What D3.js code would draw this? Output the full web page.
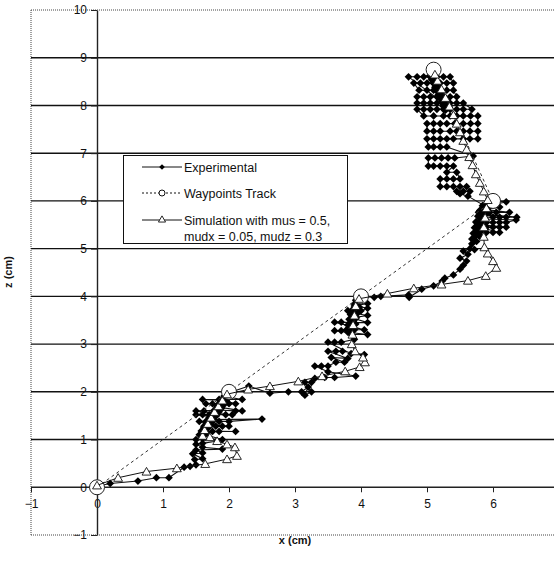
<!DOCTYPE html>
<html>
<head>
<meta charset="utf-8">
<script src="https://cdn.jsdelivr.net/npm/d3@7"></script>
<style>
  body { margin: 0; background: #fff; }
  svg { display: block; font-family: "Liberation Sans", Arial, sans-serif; }
</style>
</head>
<body>
<svg id="chart" width="554" height="564"></svg>
<script>
// ---- data -------------------------------------------------------------
const xTickValues = [-1, 0, 1, 2, 3, 4, 5, 6];
const zTickValues = [-1, 0, 1, 2, 3, 4, 5, 6, 7, 8, 9, 10];

const waypoints = [[0, 0], [2, 2], [4, 4], [6, 6], [5.1, 8.75]];

// measured track, leg by leg
const expLeg0 = [
  [0, 0.02], [0.2, 0.08], [0.62, 0.13], [0.9, 0.2], [1.09, 0.2], [1.32, 0.42],
  [1.41, 0.44], [1.5, 0.47], [1.48, 0.58], [1.6, 0.6], [1.45, 0.7], [1.6, 0.72],
  [1.5, 0.78], [1.9, 0.8], [1.6, 0.84], [1.5, 0.9], [1.6, 0.92], [1.82, 0.97],
  [1.5, 1.0], [1.6, 1.02], [1.9, 1.0]
];
const expHover1 = [
  [1.58, 1.12], [1.65, 1.12], [1.75, 1.17], [1.85, 1.17], [2.1, 1.17], [1.6, 1.18],
  [1.62, 1.25], [1.7, 1.28], [1.8, 1.28], [1.9, 1.28], [2.0, 1.28], [1.66, 1.32],
  [1.55, 1.38], [1.65, 1.38], [1.75, 1.38], [1.85, 1.38], [2.0, 1.38], [2.5, 1.43],
  [1.7, 1.42], [1.74, 1.48], [1.5, 1.52], [1.6, 1.52], [1.7, 1.52], [1.95, 1.52],
  [2.05, 1.52], [1.78, 1.55], [1.5, 1.6], [1.62, 1.6], [1.82, 1.62], [2.1, 1.6],
  [2.2, 1.6], [1.85, 1.68], [1.9, 1.75], [1.65, 1.75], [1.75, 1.75], [2.0, 1.75],
  [2.1, 1.75], [1.92, 1.82], [1.6, 1.84], [1.85, 1.84], [2.2, 1.84], [1.95, 1.9],
  [1.6, 1.15], [1.63, 1.22], [1.67, 1.3], [1.7, 1.36], [1.73, 1.44], [1.77, 1.5],
  [1.8, 1.58], [1.83, 1.65], [1.87, 1.72], [1.9, 1.8], [1.93, 1.86], [1.97, 1.94],
  [1.55, 1.1], [1.58, 1.18], [1.62, 1.28], [1.66, 1.36], [1.7, 1.46], [1.74, 1.54],
  [1.78, 1.62], [1.82, 1.7], [1.86, 1.78], [1.9, 1.86], [1.93, 1.92],
  [1.65, 1.15], [1.69, 1.25], [1.73, 1.33], [1.77, 1.42], [1.81, 1.5], [1.85, 1.58],
  [1.89, 1.66], [1.93, 1.74], [1.96, 1.82]
];
const expLeg1 = [
  [1.98, 1.97], [2.3, 2.12], [2.62, 1.97], [2.9, 2.0], [3.1, 2.0], [3.2, 2.1],
  [3.15, 1.93], [3.25, 2.0], [3.15, 2.2], [3.25, 2.2], [3.3, 2.28], [3.45, 2.3],
  [3.6, 2.3], [3.92, 2.33], [3.5, 2.42], [3.3, 2.54], [3.4, 2.54], [3.5, 2.54],
  [3.62, 2.62], [3.75, 2.62], [3.55, 2.72], [3.8, 2.7], [3.5, 2.85], [3.62, 2.85],
  [3.72, 2.85], [4.05, 2.78], [3.85, 2.8], [3.5, 3.04], [3.6, 3.04], [3.7, 3.04],
  [3.9, 3.1], [3.85, 3.2], [4.1, 3.2], [3.6, 3.28], [3.7, 3.28], [3.82, 3.3],
  [4.05, 3.3], [3.6, 3.46], [3.7, 3.46], [3.84, 3.45], [4.1, 3.45], [3.86, 3.55],
  [4.1, 3.6], [3.88, 3.65], [3.8, 3.7], [4.0, 3.7], [4.1, 3.75], [3.9, 3.8],
  [4.1, 3.85], [3.93, 3.88], [3.8, 3.25], [3.82, 3.35], [3.83, 3.42], [3.85, 3.5],
  [3.87, 3.58], [3.88, 3.66], [3.9, 3.74], [3.92, 3.82], [3.95, 3.9], [3.97, 3.95],
  [3.78, 3.3], [3.8, 3.4], [3.82, 3.52], [3.84, 3.62], [3.87, 3.72], [3.9, 3.84],
  [3.92, 3.92], [3.9, 3.3], [3.92, 3.42], [3.93, 3.55], [3.95, 3.65], [3.97, 3.78]
];
const expLeg2 = [
  [4.05, 4.0], [4.2, 3.98], [4.3, 4.0], [4.72, 4.03], [4.73, 3.98], [4.92, 4.15],
  [5.1, 4.22], [5.23, 4.32], [5.27, 4.38], [5.4, 4.45], [5.5, 4.57], [5.55, 4.65],
  [5.6, 4.74], [5.5, 4.8], [5.62, 4.88], [5.55, 4.95], [5.65, 5.0], [5.72, 4.98],
  [5.68, 5.1], [5.75, 5.15], [5.7, 5.22], [5.78, 5.3], [5.8, 5.34], [5.9, 5.34],
  [6.0, 5.34], [6.1, 5.34], [5.8, 5.45], [5.9, 5.45], [6.0, 5.45], [6.1, 5.45],
  [6.2, 5.45], [5.82, 5.5], [5.75, 5.55], [5.9, 5.55], [6.0, 5.55], [6.1, 5.55],
  [6.2, 5.55], [6.35, 5.6], [5.85, 5.62], [5.8, 5.66], [6.0, 5.66], [6.1, 5.66],
  [6.2, 5.66], [6.36, 5.66], [5.86, 5.72], [5.78, 5.76], [5.95, 5.76], [6.05, 5.76],
  [6.25, 5.76], [5.88, 5.82], [6.1, 5.87], [5.9, 5.9], [6.2, 5.98], [5.95, 6.0],
  [5.72, 5.25], [5.74, 5.35], [5.76, 5.45], [5.78, 5.55], [5.8, 5.65], [5.83, 5.75],
  [5.86, 5.85], [5.9, 5.95],
  [5.68, 5.2], [5.7, 5.32], [5.72, 5.44], [5.74, 5.56], [5.77, 5.68], [5.8, 5.8],
  [5.84, 5.9], [5.8, 5.25], [5.82, 5.38], [5.85, 5.5], [5.88, 5.62], [5.9, 5.74],
  [5.93, 5.85]
];
const expLeg3 = [
  [5.62, 6.1], [5.5, 6.15], [5.45, 6.2], [5.55, 6.2], [5.65, 6.2],
  [5.6, 6.3], [5.5, 6.3], [5.4, 6.3], [5.3, 6.3], [5.2, 6.3],
  [5.2, 6.46], [5.3, 6.46], [5.4, 6.46], [5.5, 6.46], [5.45, 6.6], [5.3, 6.6],
  [5.4, 6.73], [5.3, 6.73], [5.2, 6.73], [5.1, 6.73], [5.02, 6.73],
  [5.02, 6.9], [5.12, 6.9], [5.22, 6.9], [5.32, 6.9], [5.42, 6.9], [5.7, 6.94],
  [5.3, 7.13], [5.2, 7.13], [5.1, 7.13], [5.02, 7.13],
  [5.0, 7.3], [5.1, 7.3], [5.2, 7.3], [5.3, 7.3], [5.4, 7.3], [5.55, 7.3], [5.65, 7.3], [5.77, 7.3],
  [5.77, 7.46], [5.65, 7.46], [5.55, 7.46], [5.45, 7.46], [5.35, 7.46], [5.2, 7.46], [5.1, 7.46], [5.0, 7.46],
  [5.0, 7.62], [5.1, 7.62], [5.2, 7.62], [5.3, 7.62], [5.42, 7.62], [5.55, 7.62], [5.66, 7.62], [5.77, 7.62],
  [5.77, 7.78], [5.66, 7.78], [5.55, 7.78], [5.45, 7.78], [5.35, 7.78], [5.25, 7.78], [5.1, 7.78], [4.95, 7.78],
  [4.85, 7.92], [4.95, 7.92], [5.05, 7.92], [5.15, 7.92], [5.25, 7.92], [5.35, 7.92], [5.45, 7.92], [5.55, 7.92], [5.68, 7.92],
  [5.55, 8.05], [5.45, 8.05], [5.35, 8.05], [5.25, 8.05], [5.15, 8.05], [5.05, 8.05], [4.95, 8.05], [4.85, 8.05],
  [4.85, 8.18], [4.95, 8.18], [5.05, 8.18], [5.15, 8.18], [5.25, 8.18], [5.35, 8.18], [5.45, 8.18],
  [5.4, 8.32], [5.3, 8.32], [5.2, 8.32], [5.1, 8.32], [5.0, 8.32], [4.88, 8.32],
  [4.8, 8.47], [4.9, 8.47], [5.0, 8.47], [5.1, 8.47], [5.2, 8.47], [5.3, 8.47], [5.4, 8.47],
  [5.35, 8.6], [5.25, 8.6], [5.15, 8.6], [5.05, 8.6], [4.95, 8.6], [4.85, 8.6], [4.72, 8.6],
  [5.34, 7.96], [5.31, 8.02], [5.29, 8.08], [5.26, 8.14], [5.24, 8.2], [5.21, 8.26],
  [5.19, 8.32], [5.16, 8.38], [5.14, 8.44], [5.11, 8.5], [5.09, 8.56], [5.06, 8.62],
  [5.28, 7.9], [5.25, 7.98], [5.22, 8.06], [5.2, 8.14], [5.17, 8.22], [5.15, 8.3],
  [5.12, 8.38], [5.1, 8.46], [5.07, 8.54], [5.04, 8.62]
];

// simulated track (mus = 0.5, mudx = 0.05, mudz = 0.3)
const simulation = [
  [0, 0.04], [0.32, 0.2], [0.75, 0.33], [1.21, 0.4], [1.64, 0.49], [1.97, 0.59],
  [2.12, 0.66], [2.09, 0.84], [1.97, 0.9], [1.82, 0.97], [1.71, 1.05], [1.6, 1.08],
  [1.63, 1.2], [1.68, 1.33], [1.73, 1.46], [1.78, 1.58], [1.84, 1.7], [1.9, 1.82],
  [1.97, 1.95], [2.29, 2.05], [2.62, 2.12], [3.05, 2.22], [3.41, 2.33], [3.76, 2.43],
  [3.98, 2.52], [4.06, 2.62], [4.03, 2.72], [3.91, 2.85], [3.86, 3.0], [3.87, 3.2],
  [3.88, 3.4], [3.9, 3.6], [3.92, 3.8], [3.97, 3.95], [4.4, 4.06], [4.8, 4.17],
  [5.22, 4.25], [5.62, 4.33], [5.89, 4.43], [6.05, 4.6], [6.0, 4.74], [5.92, 4.9],
  [5.87, 5.03], [5.86, 5.25], [5.86, 5.45], [5.88, 5.65], [5.9, 5.85], [5.92, 6.02],
  [5.86, 6.2], [5.8, 6.38], [5.74, 6.56], [5.69, 6.75], [5.64, 6.92], [5.6, 7.08],
  [5.55, 7.26], [5.5, 7.44], [5.45, 7.62], [5.4, 7.8], [5.34, 7.98], [5.28, 8.16],
  [5.22, 8.34], [5.16, 8.52], [5.12, 8.65]
];

const experimental = [...expLeg0, ...expHover1, ...expLeg1, ...expLeg2, ...expLeg3];

// ---- scales -----------------------------------------------------------
const svg = d3.select("#chart");
const x = d3.scaleLinear().domain([-1, 7]).range([31, 559]);
const z = d3.scaleLinear().domain([-1, 10]).range([535, 10]);

// square diamond marker
const diamondSym = {
  draw(ctx, size) {
    const r = Math.sqrt(size / 2);
    ctx.moveTo(0, -r); ctx.lineTo(r, 0); ctx.lineTo(0, r); ctx.lineTo(-r, 0); ctx.closePath();
  }
};

// ---- frame & grid -----------------------------------------------------
const frame = svg.append("g").attr("stroke", "#444").attr("stroke-width", 1)
  .attr("stroke-dasharray", "1,1").attr("fill", "none");
frame.append("line").attr("x1", x(-1)).attr("x2", 554).attr("y1", z(10)).attr("y2", z(10));
frame.append("line").attr("x1", x(-1)).attr("x2", 554).attr("y1", z(-1)).attr("y2", z(-1));
frame.append("line").attr("x1", x(-1)).attr("x2", x(-1)).attr("y1", z(10)).attr("y2", z(-1));

svg.append("g").selectAll("line")
  .data(zTickValues.filter(v => v > 0 && v < 10))
  .join("line")
  .attr("x1", x(-1)).attr("x2", 554)
  .attr("y1", d => z(d)).attr("y2", d => z(d))
  .attr("stroke", "#111").attr("stroke-width", 1.4);

// ---- axes -------------------------------------------------------------
const xAxis = svg.append("g")
  .attr("transform", `translate(0,${z(0)})`)
  .call(d3.axisBottom(x).tickValues(xTickValues).tickFormat(d3.format("d"))
    .tickSize(5).tickSizeOuter(0).tickPadding(7));
const zAxis = svg.append("g")
  .attr("transform", `translate(${x(0)},0)`)
  .call(d3.axisLeft(z).tickValues(zTickValues).tickFormat(d3.format("d"))
    .tickSize(6).tickSizeOuter(0).tickPadding(4));
[xAxis, zAxis].forEach(g => {
  g.select(".domain").attr("stroke", "#222").attr("stroke-width", 1.4);
  g.selectAll(".tick line").attr("stroke", "#222");
  g.selectAll("text").attr("font-size", 12).attr("fill", "#111")
    .attr("font-family", "Liberation Sans, Arial, sans-serif");
});
xAxis.select(".domain").attr("d", `M${x(-1)},0H554`);

svg.append("text").attr("x", 295).attr("y", 544).attr("text-anchor", "middle")
  .attr("font-size", 11).attr("font-weight", "bold").attr("fill", "#111").text("x (cm)");
svg.append("text").attr("transform", "translate(12,272) rotate(-90)").attr("text-anchor", "middle")
  .attr("font-size", 11).attr("font-weight", "bold").attr("fill", "#111").text("z (cm)");

// ---- series -----------------------------------------------------------
const line = d3.line().x(d => x(d[0])).y(d => z(d[1]));

svg.append("path").datum(experimental).attr("d", line)
  .attr("fill", "none").attr("stroke", "#111").attr("stroke-width", 1.1);
svg.append("g").selectAll("path").data(experimental).join("path")
  .attr("transform", d => `translate(${x(d[0])},${z(d[1])})`)
  .attr("d", d3.symbol().type(diamondSym).size(30)).attr("fill", "#000");

svg.append("path").datum(waypoints).attr("d", line)
  .attr("fill", "none").attr("stroke", "#333").attr("stroke-width", 1)
  .attr("stroke-dasharray", "3,3");
svg.append("g").selectAll("circle").data(waypoints).join("circle")
  .attr("cx", d => x(d[0])).attr("cy", d => z(d[1])).attr("r", 7.5)
  .attr("fill", "#fff").attr("stroke", "#222").attr("stroke-width", 1);

svg.append("path").datum(simulation).attr("d", line)
  .attr("fill", "none").attr("stroke", "#111").attr("stroke-width", 1);
svg.append("g").selectAll("path").data(simulation).join("path")
  .attr("transform", d => `translate(${x(d[0])},${z(d[1]) + 1})`)
  .attr("d", d3.symbol().type(d3.symbolTriangle).size(34))
  .attr("fill", "#fff").attr("stroke", "#111").attr("stroke-width", 0.9);

// ---- legend -----------------------------------------------------------
const legendItems = [
  { label: ["Experimental"], kind: "diamond", dash: null, y: 167 },
  { label: ["Waypoints Track"], kind: "circle", dash: "2,2", y: 193 },
  { label: ["Simulation with mus = 0.5,", "mudx = 0.05, mudz = 0.3"], kind: "triangle", dash: null, y: 220 }
];
const lg = svg.append("g");
lg.append("rect").attr("x", 123.5).attr("y", 155.5).attr("width", 224).attr("height", 88)
  .attr("fill", "#fff").attr("stroke", "#111").attr("stroke-width", 1);
legendItems.forEach(it => {
  lg.append("line").attr("x1", 142).attr("x2", 182).attr("y1", it.y).attr("y2", it.y)
    .attr("stroke", "#111").attr("stroke-width", 1).attr("stroke-dasharray", it.dash);
  if (it.kind === "diamond") {
    lg.append("path").attr("transform", `translate(162,${it.y})`)
      .attr("d", d3.symbol().type(diamondSym).size(16)).attr("fill", "#000");
  } else if (it.kind === "circle") {
    lg.append("circle").attr("cx", 162).attr("cy", it.y).attr("r", 3)
      .attr("fill", "#fff").attr("stroke", "#111");
  } else {
    lg.append("path").attr("transform", `translate(162,${it.y})`)
      .attr("d", d3.symbol().type(d3.symbolTriangle).size(22))
      .attr("fill", "#fff").attr("stroke", "#111").attr("stroke-width", 0.9);
  }
  it.label.forEach((t, i) => {
    lg.append("text").attr("x", 184).attr("y", it.y + i * 16 + 4.5)
      .attr("font-size", 12.5).attr("fill", "#111").text(t);
  });
});
</script>
</body>
</html>
